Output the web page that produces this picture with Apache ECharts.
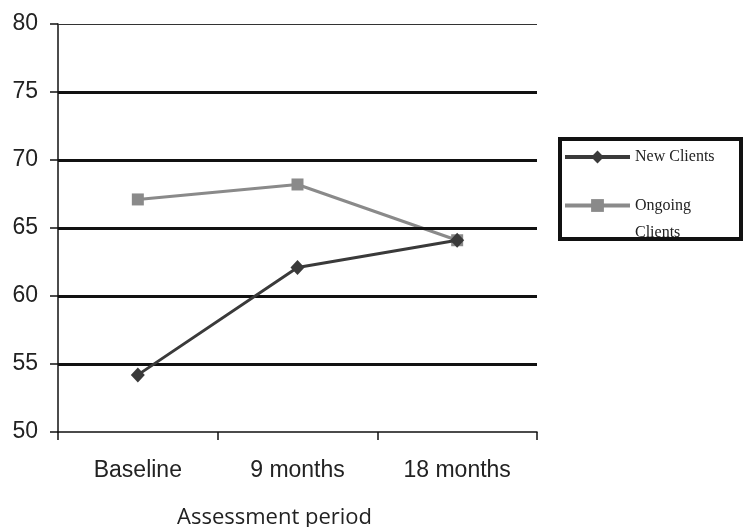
<!DOCTYPE html>
<html>
<head>
<meta charset="utf-8">
<script src="https://cdn.jsdelivr.net/npm/echarts@6/dist/echarts.min.js"></script>
<style>html,body{margin:0;padding:0;background:#fff;}#c{width:743px;height:527px;}</style>
</head>
<body>
<div id="c"></div>
<script>
var categories = ['Baseline', '9 months', '18 months'];
var newClients = [54.2, 62.1, 64.1];
var ongoingClients = [67.1, 68.2, 64.1];
var gridValues = [55, 60, 65, 70, 75];
var topValue = 80;

var chart = echarts.init(document.getElementById('c'), null, {renderer: 'canvas'});
chart.setOption({
  animation: false,
  backgroundColor: '#fff',
  grid: {left: 58, right: 206, top: 24, bottom: 95, containLabel: false},
  xAxis: {
    type: 'category',
    data: categories,
    boundaryGap: true,
    axisLine: {show: true, lineStyle: {color: '#111', width: 1.5}},
    axisTick: {show: true, length: 8, lineStyle: {color: '#111', width: 1.5}},
    axisLabel: {color: '#222', fontFamily: 'Liberation Sans', fontSize: 23, margin: 27},
    splitLine: {show: false}
  },
  yAxis: {
    type: 'value',
    min: 50, max: 80, interval: 5,
    axisLine: {show: true, lineStyle: {color: '#111', width: 1.5}},
    axisTick: {show: true, length: 8, lineStyle: {color: '#111', width: 1.5}},
    axisLabel: {color: '#222', fontFamily: 'Liberation Sans', fontSize: 23, margin: 20},
    splitLine: {show: false}
  },
  legend: [
    {
      data: ['New Clients'],
      orient: 'vertical', left: 563, top: 149, padding: 0,
      itemWidth: 65, itemHeight: 16, itemGap: 0,
      lineStyle: {width: 4},
      textStyle: {fontFamily: 'Liberation Serif', fontSize: 16, color: '#222'}
    },
    {
      data: ['Ongoing Clients'],
      orient: 'vertical', left: 563, top: 165, padding: 0,
      itemWidth: 65, itemHeight: 16, itemGap: 0,
      lineStyle: {width: 4},
      formatter: function (n) { return '\n' + n.replace(' ', '\n'); },
      textStyle: {fontFamily: 'Liberation Serif', fontSize: 16, color: '#222', lineHeight: 27}
    }
  ],
  graphic: [
    {
      type: 'rect', z: 100,
      shape: {x: 560, y: 139, width: 181, height: 100},
      style: {fill: 'none', stroke: '#111', lineWidth: 4}
    },
    {
      type: 'text', z: 100, left: 177, top: 507,
      style: {text: 'Assessment period', fontFamily: 'Open Sans', fontSize: 22, fill: '#222'}
    }
  ],
  series: [
    {
      name: 'New Clients', type: 'line', data: newClients,
      symbol: 'diamond', symbolSize: [14, 15],
      lineStyle: {color: '#3a3a3a', width: 3},
      itemStyle: {color: '#3a3a3a'},
      z: 5,
      markLine: {
        silent: true, symbol: 'none', animation: false,
        label: {show: false},
        lineStyle: {color: '#111', width: 3, type: 'solid'},
        data: gridValues.map(function (v) { return {yAxis: v}; }).concat([{yAxis: topValue, lineStyle: {width: 1, color: '#333'}}])
      }
    },
    {
      name: 'Ongoing Clients', type: 'line', data: ongoingClients,
      symbol: 'rect', symbolSize: 12,
      lineStyle: {color: '#8a8a8a', width: 3},
      itemStyle: {color: '#8a8a8a'},
      z: 4
    }
  ]
});
</script>
</body>
</html>
